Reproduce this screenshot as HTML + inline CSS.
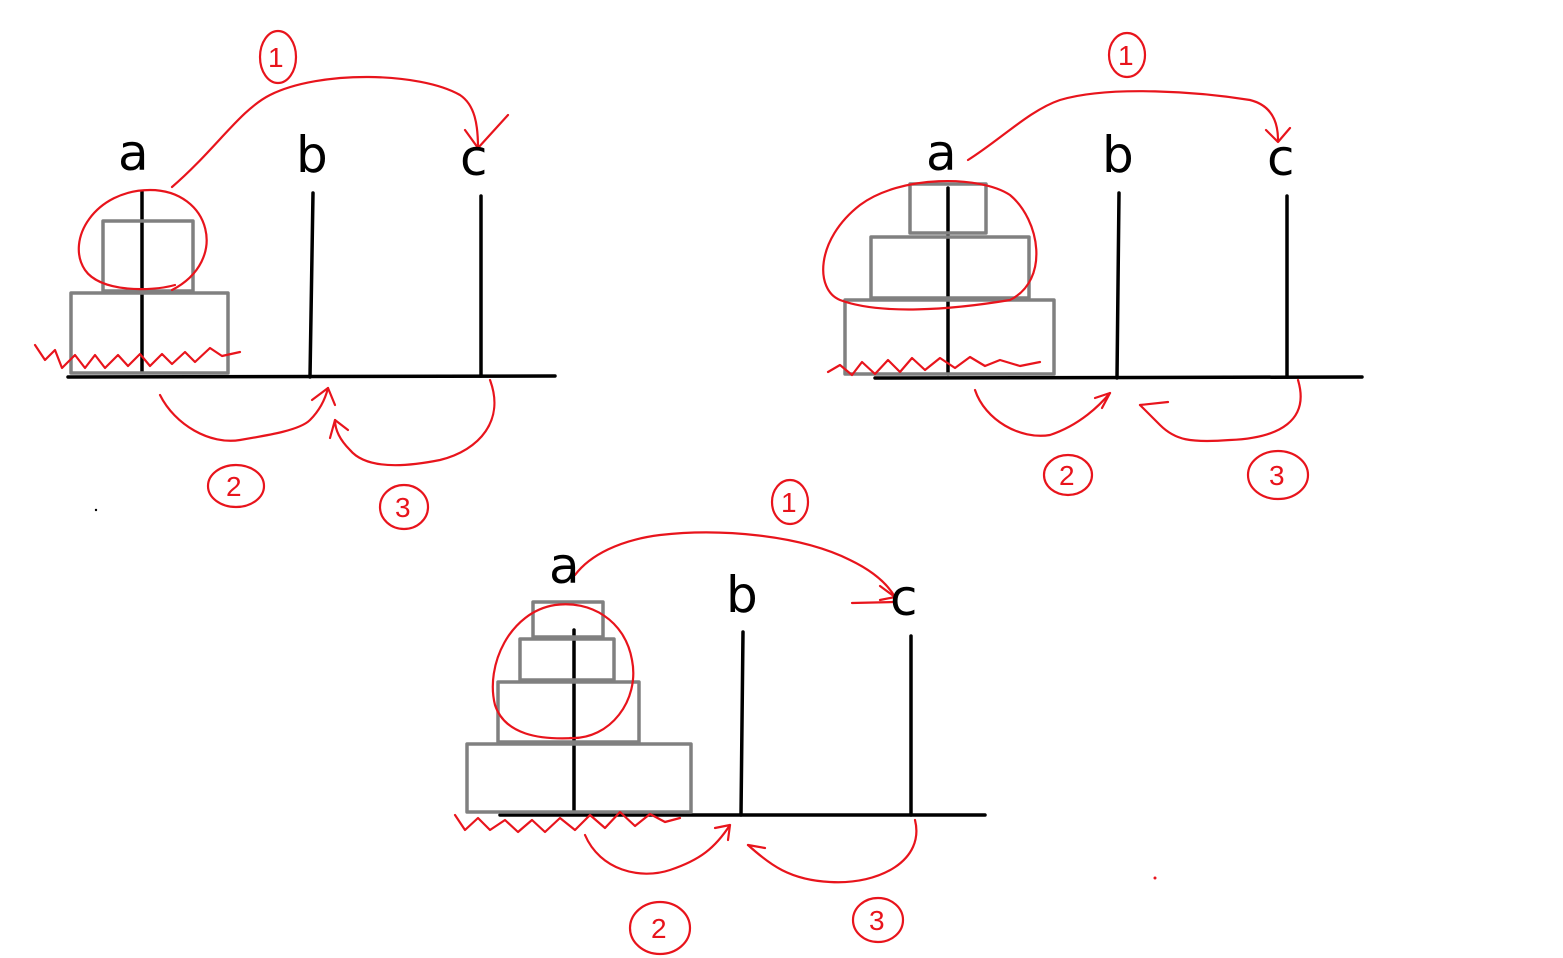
<!DOCTYPE html>
<html><head><meta charset="utf-8"><style>
html,body{margin:0;padding:0;background:#fff;}
svg{display:block;}
.lbl{font-family:"DejaVu Sans","Liberation Sans",sans-serif;font-size:50px;fill:#000;}
.num{font-family:"Liberation Sans",sans-serif;font-size:28px;fill:#e8141c;}
</style></head><body>
<svg width="1563" height="958" viewBox="0 0 1563 958" xmlns="http://www.w3.org/2000/svg">
<g fill="none" stroke-linecap="round" stroke-linejoin="round">
<!-- Diagram 1 -->
<g stroke="#000" stroke-width="3.5">
<line x1="68" y1="377" x2="555" y2="376"/>
<line x1="142" y1="192" x2="142" y2="372"/>
<line x1="313" y1="193" x2="310" y2="377"/>
<line x1="481" y1="196" x2="481" y2="376"/>
</g>
<g stroke="#808080" stroke-width="3.5">
<rect x="103" y="221" width="90" height="70"/>
<rect x="71" y="293" width="157" height="80"/>
</g>
<g stroke="#e8141c" stroke-width="2.2">
<path d="M172,290 C230,260 210,190 150,190 C95,190 65,240 85,270 C100,292 150,292 175,285"/>
<path d="M172,187 C215,150 240,110 270,95 C320,70 420,72 460,95 C475,105 478,125 478,148"/>
<path d="M465,130 L478,148 L508,115"/>
<path d="M35,345 L45,360 L55,350 L62,368 L75,355 L85,368 L95,355 L105,368 L118,355 L128,366 L140,354 L150,366 L162,354 L172,364 L185,352 L195,362 L210,348 L222,356 L240,352"/>
<path d="M160,395 C175,425 210,445 240,440 C270,435 300,430 310,420 C320,410 325,400 328,388"/>
<path d="M312,400 L328,388 L335,405"/>
<path d="M490,380 C505,420 480,450 440,460 C400,468 365,468 350,450 C340,440 335,430 335,420"/>
<path d="M330,438 L335,420 L348,430"/>
<ellipse cx="278" cy="57" rx="18" ry="26"/>
<ellipse cx="236" cy="486" rx="28" ry="21"/>
<ellipse cx="404" cy="507" rx="24" ry="22"/>
</g>
<text class="lbl" x="118" y="170">a</text>
<text class="lbl" x="296" y="172">b</text>
<text class="lbl" x="460" y="175">c</text>
<text class="num" x="268" y="67">1</text>
<text class="num" x="226" y="496">2</text>
<text class="num" x="395" y="517">3</text>

<!-- Diagram 2 -->
<g stroke="#000" stroke-width="3.5">
<line x1="875" y1="378" x2="1362" y2="377"/>
<line x1="948" y1="188" x2="948" y2="374"/>
<line x1="1119" y1="193" x2="1117" y2="378"/>
<line x1="1287" y1="196" x2="1287" y2="377"/>
</g>
<g stroke="#808080" stroke-width="3.5">
<rect x="910" y="184" width="76" height="49"/>
<rect x="871" y="237" width="158" height="61"/>
<rect x="845" y="300" width="209" height="74"/>
</g>
<g stroke="#e8141c" stroke-width="2.2">
<path d="M1010,300 C1050,280 1040,220 1010,195 C980,175 900,175 860,205 C815,240 815,290 840,300 C880,315 950,310 1010,300"/>
<path d="M968,160 C1000,140 1030,110 1060,100 C1110,85 1200,92 1250,100 C1270,105 1278,120 1278,140"/>
<path d="M1266,130 L1278,142 L1290,128"/>
<path d="M828,372 L840,365 L852,375 L862,362 L875,374 L888,360 L900,372 L912,358 L925,370 L940,358 L955,368 L970,357 L985,366 L1000,360 L1020,366 L1040,362"/>
<path d="M975,390 C985,420 1020,440 1050,435 C1080,425 1100,405 1110,393"/>
<path d="M1095,398 L1110,393 L1102,408"/>
<path d="M1298,380 C1310,420 1280,438 1230,440 C1190,443 1175,440 1160,425 C1150,415 1145,410 1140,405"/>
<path d="M1140,405 L1168,402"/>
<ellipse cx="1127" cy="55" rx="18" ry="22"/>
<ellipse cx="1068" cy="475" rx="24" ry="20"/>
<ellipse cx="1278" cy="475" rx="30" ry="24"/>
</g>
<text class="lbl" x="926" y="170">a</text>
<text class="lbl" x="1102" y="172">b</text>
<text class="lbl" x="1267" y="175">c</text>
<text class="num" x="1118" y="65">1</text>
<text class="num" x="1059" y="485">2</text>
<text class="num" x="1269" y="485">3</text>

<!-- Diagram 3 -->
<g stroke="#000" stroke-width="3.5">
<line x1="500" y1="815" x2="985" y2="815"/>
<line x1="574" y1="630" x2="574" y2="812"/>
<line x1="743" y1="632" x2="741" y2="815"/>
<line x1="911" y1="636" x2="911" y2="815"/>
</g>
<g stroke="#808080" stroke-width="3.5">
<rect x="533" y="602" width="70" height="35"/>
<rect x="520" y="639" width="94" height="41"/>
<rect x="498" y="682" width="141" height="60"/>
<rect x="467" y="744" width="224" height="68"/>
</g>
<g stroke="#e8141c" stroke-width="2.2">
<path d="M570,738 C610,740 640,700 632,660 C625,620 590,600 555,605 C510,612 485,665 495,705 C505,735 540,740 575,738"/>
<path d="M575,575 C590,555 620,540 660,535 C720,528 800,535 850,560 C875,572 888,585 895,597"/>
<path d="M880,586 L895,597 L880,600"/>
<path d="M852,603 L895,602"/>
<path d="M455,815 L465,830 L478,818 L490,830 L505,820 L518,832 L532,820 L545,832 L560,818 L575,830 L590,815 L605,828 L620,812 L635,826 L650,814 L665,822 L680,818"/>
<path d="M585,835 C600,870 640,880 670,870 C700,860 715,848 730,825"/>
<path d="M715,828 L730,825 L728,840"/>
<path d="M915,820 C925,860 880,885 830,882 C790,880 770,865 748,845"/>
<path d="M748,845 L765,848"/>
<ellipse cx="790" cy="502" rx="18" ry="22"/>
<ellipse cx="660" cy="928" rx="30" ry="26"/>
<ellipse cx="878" cy="920" rx="25" ry="22"/>
</g>
<text class="lbl" x="549" y="583">a</text>
<text class="lbl" x="726" y="612">b</text>
<text class="lbl" x="890" y="615">c</text>
<text class="num" x="781" y="512">1</text>
<text class="num" x="651" y="938">2</text>
<text class="num" x="869" y="930">3</text>
</g>
<circle cx="96" cy="510" r="1.2" fill="#000"/>
<circle cx="1155" cy="878" r="1.5" fill="#e8141c"/>
</svg>
</body></html>
